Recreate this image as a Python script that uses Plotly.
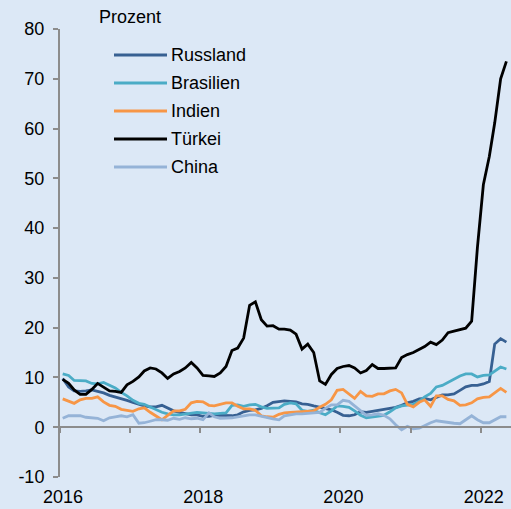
import pandas as pd
import plotly.graph_objects as go

# Monthly inflation rates (%), Jan 2016 - May 2022 (mid-month)
months = pd.date_range("2016-01-01", periods=77, freq="MS") + pd.Timedelta(days=14)

russland = [9.8, 8.1, 7.3, 7.2, 7.3, 7.5, 7.2, 6.9, 6.4, 6.1, 5.8, 5.4,
            5.0, 4.6, 4.3, 4.1, 4.1, 4.4, 3.9, 3.3, 3.0, 2.7, 2.5, 2.5,
            2.2, 2.2, 2.4, 2.4, 2.4, 2.3, 2.5, 3.1, 3.4, 3.5, 3.8, 4.3,
            5.0, 5.2, 5.3, 5.2, 5.1, 4.7, 4.6, 4.3, 4.0, 3.8, 3.5, 3.0,
            2.4, 2.3, 2.5, 3.1, 3.0, 3.2, 3.4, 3.6, 3.7, 4.0, 4.4, 4.9,
            5.2, 5.7, 5.8, 5.5, 6.0, 6.5, 6.5, 6.7, 7.4, 8.1, 8.4, 8.4,
            8.7, 9.2, 16.7, 17.8, 17.1]
brasilien = [10.7, 10.4, 9.4, 9.3, 9.3, 8.8, 8.7, 9.0, 8.5, 7.9, 7.0, 6.3,
             5.4, 4.8, 4.6, 4.1, 3.6, 3.0, 2.7, 2.5, 2.5, 2.7, 2.8, 3.0,
             2.9, 2.8, 2.7, 2.8, 2.9, 4.4, 4.5, 4.2, 4.5, 4.6, 4.1, 3.8,
             3.8, 3.9, 4.6, 4.9, 4.7, 3.4, 3.2, 3.4, 2.9, 2.5, 3.3, 4.3,
             4.2, 4.0, 3.3, 2.4, 1.9, 2.1, 2.3, 2.4, 3.1, 3.9, 4.3, 4.5,
             4.6, 5.2, 6.1, 6.8, 8.1, 8.4, 9.0, 9.7, 10.3, 10.7, 10.7, 10.1,
             10.4, 10.5, 11.3, 12.1, 11.7]
indien = [5.7, 5.3, 4.8, 5.5, 5.8, 5.8, 6.1, 5.1, 4.4, 4.2, 3.6, 3.4,
          3.2, 3.7, 3.9, 3.0, 2.2, 1.5, 2.4, 3.3, 3.3, 3.6, 4.9, 5.2,
          5.1, 4.4, 4.3, 4.6, 4.9, 4.9, 4.2, 3.7, 3.7, 3.4, 2.3, 2.1,
          2.0, 2.6, 2.9, 3.0, 3.1, 3.2, 3.2, 3.3, 4.0, 4.6, 5.5, 7.4,
          7.6, 6.6, 5.8, 7.2, 6.3, 6.2, 6.7, 6.7, 7.3, 7.6, 6.9, 4.6,
          4.1, 5.0, 5.5, 4.2, 6.3, 6.3, 5.6, 5.3, 4.4, 4.5, 4.9, 5.7,
          6.0, 6.1, 7.0, 7.8, 7.0]
tuerkei = [9.6, 8.8, 7.5, 6.6, 6.6, 7.6, 8.8, 8.1, 7.3, 7.2, 7.0, 8.5,
           9.2, 10.1, 11.3, 11.9, 11.7, 10.9, 9.8, 10.7, 11.2, 11.9, 13.0, 11.9,
           10.4, 10.3, 10.2, 10.9, 12.2, 15.4, 15.9, 17.9, 24.5, 25.2, 21.6, 20.3,
           20.4, 19.7, 19.7, 19.5, 18.7, 15.7, 16.7, 15.0, 9.3, 8.6, 10.6, 11.8,
           12.2, 12.4, 11.9, 10.9, 11.4, 12.6, 11.8, 11.8, 11.8, 11.9, 14.0, 14.6,
           15.0, 15.6, 16.2, 17.1, 16.6, 17.5, 19.0, 19.3, 19.6, 19.9, 21.3, 36.1,
           48.7, 54.4, 61.1, 70.0, 73.5]
china = [1.8, 2.3, 2.3, 2.3, 2.0, 1.9, 1.8, 1.3, 1.9, 2.1, 2.3, 2.1,
         2.5, 0.8, 0.9, 1.2, 1.5, 1.5, 1.4, 1.8, 1.6, 1.9, 1.7, 1.8,
         1.5, 2.9, 2.1, 1.8, 1.8, 1.9, 2.1, 2.3, 2.5, 2.5, 2.2, 1.9,
         1.7, 1.5, 2.3, 2.5, 2.7, 2.7, 2.8, 2.8, 3.0, 3.8, 4.5, 4.5,
         5.4, 5.2, 4.3, 3.3, 2.4, 2.5, 2.7, 2.4, 1.7, 0.5, -0.5, 0.2,
         -0.3, -0.2, 0.4, 0.9, 1.3, 1.1, 1.0, 0.8, 0.7, 1.5, 2.3, 1.5,
         0.9, 0.9, 1.5, 2.1, 2.1]

series_names = ["Russland", "Brasilien", "Indien", "Türkei", "China"]
series_values = [russland, brasilien, indien, tuerkei, china]
series_colors = ["#376092", "#4bacc6", "#f79646", "#000000", "#95b3d7"]

year_ticks = ["2016-01-01", "2017-01-01", "2018-01-01", "2019-01-01",
              "2020-01-01", "2021-01-01", "2022-01-01"]
year_labels = ["2016-01-01", "2018-01-01", "2020-01-01", "2022-01-01"]
y_ticks = [-10, 0, 10, 20, 30, 40, 50, 60, 70, 80]
y_ticktext = ["-10", "0", "10", "20", "30", "40", "50", "60", "70", "80"]
y_min, y_max = -10, 80

BG = "#dce8f6"
AXIS = "#8c8c8c"
FONT = "Liberation Sans, Arial, sans-serif"

W, H = 511, 509
ML, MR, MT, MB = 60, 0, 29, 32
LW = 2.8

fig = go.Figure()
for name, vals, col in zip(series_names, series_values, series_colors):
    fig.add_trace(go.Scatter(x=months, y=vals, mode="lines", name=name,
                             line=dict(color=col, width=LW), showlegend=False))

# dummy trace carrying the label axis
fig.add_trace(go.Scatter(x=[months[0]], y=[None], xaxis="x2", showlegend=False,
                         hoverinfo="skip"))

xrange = ["2016-01-01", "2022-06-08"]
zero_pos = (0 - y_min) / (y_max - y_min)

fig.update_layout(
    width=W, height=H,
    margin=dict(l=ML, r=MR, t=MT, b=MB, autoexpand=False),
    paper_bgcolor=BG, plot_bgcolor=BG,
    font=dict(family=FONT, size=18, color="#000000"),
    showlegend=False,
    xaxis=dict(range=xrange, type="date", anchor="free", position=zero_pos,
               showline=True, linecolor=AXIS, linewidth=2,
               ticks="outside", tickvals=year_ticks, ticklen=5, tickwidth=2,
               tickcolor=AXIS, showticklabels=False, showgrid=False,
               zeroline=False, automargin=False),
    xaxis2=dict(range=xrange, type="date", overlaying="x", matches="x",
                anchor="y", side="bottom", showline=False, ticks="",
                tickvals=year_labels, tickformat="%Y", showgrid=False,
                zeroline=False, tickfont=dict(size=18), ticklabelshift=3,
                ticklabelstandoff=7, automargin=False),
    yaxis=dict(range=[y_min, y_max], tickvals=y_ticks, ticktext=y_ticktext,
               showline=True, linecolor=AXIS,
               linewidth=2, ticks="outside", ticklen=5, tickwidth=2,
               tickcolor=AXIS, showgrid=False, zeroline=False,
               tickfont=dict(size=18), ticklabelstandoff=5, automargin=False),
)

# custom legend (paper coordinates)
def px_to_paper(px, py):
    return (px - ML) / (W - ML - MR), (H - MB - py) / (H - MT - MB)

fig.add_annotation(x=px_to_paper(97, 0)[0], y=px_to_paper(0, 17)[1],
                   xref="paper", yref="paper", text="Prozent", showarrow=False,
                   xanchor="left", yanchor="middle", font=dict(size=18))
for i, (name, col) in enumerate(zip(series_names, series_colors)):
    py = 55 + i * 28
    x0, yy = px_to_paper(114, py)
    x1, _ = px_to_paper(167, py)
    fig.add_shape(type="line", xref="paper", yref="paper", x0=x0, x1=x1,
                  y0=yy, y1=yy, line=dict(color=col, width=LW))
    fig.add_annotation(x=px_to_paper(169, 0)[0], y=yy, xref="paper", yref="paper",
                       text=name, showarrow=False, xanchor="left",
                       yanchor="middle", font=dict(size=18))

fig.write_html("out.html", config={"displayModeBar": False},
               post_script="document.body.style.margin='0';"
                           "document.body.style.background='" + BG + "';")
